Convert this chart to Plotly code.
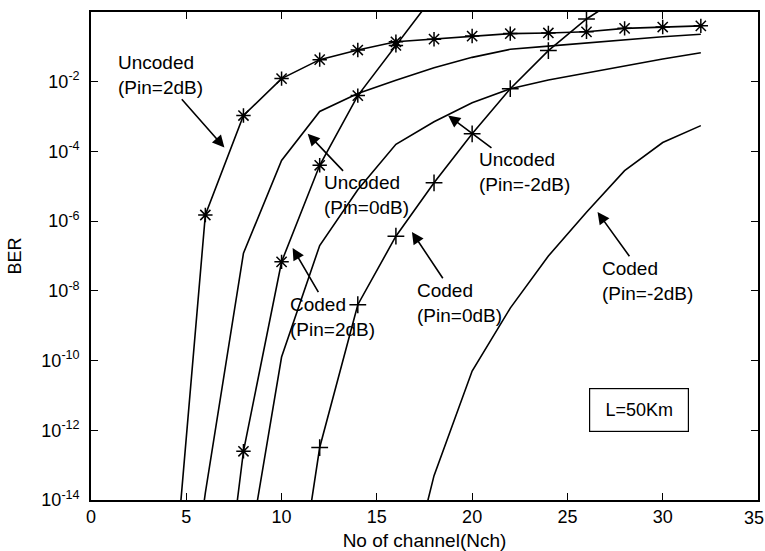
import plotly.graph_objects as go

# ---- BER versus number of channels, L = 50 km ----
# Uncoded, Pin = 2 dB
nch_unc_p2 = [4, 6, 8, 10, 12, 14, 16, 18, 20, 22, 24, 26, 28, 30, 32]
ber_unc_p2 = [2.5e-19, 1.5e-6, 1.07e-3, 1.23e-2, 4.3e-2, 8.1e-2, 0.14, 0.166,
              0.204, 0.24, 0.25, 0.27, 0.34, 0.37, 0.40]

# Uncoded, Pin = 0 dB
nch_unc_p0 = [4, 6, 8, 10, 12, 14, 16, 18, 20, 22, 24, 26, 28, 30, 32]
ber_unc_p0 = [1.6e-22, 1.6e-14, 1.2e-7, 5.5e-5, 1.4e-3, 4.6e-3, 1.1e-2, 2.5e-2,
              5.0e-2, 8.5e-2, 0.105, 0.13, 0.16, 0.195, 0.23]

# Uncoded, Pin = -2 dB
nch_unc_m2 = [8, 10, 12, 14, 16, 18, 20, 22, 24, 26, 28, 30, 32]
ber_unc_m2 = [4e-17, 1.26e-10, 2e-7, 7.9e-6, 1.6e-4, 7.1e-4, 2.5e-3, 6.3e-3,
              1.12e-2, 1.8e-2, 2.9e-2, 4.5e-2, 6.8e-2]

# Coded, Pin = 2 dB
nch_cod_p2 = [6, 8, 10, 12, 14, 16, 18]
ber_cod_p2 = [4e-22, 2.5e-13, 6.8e-8, 4e-5, 4e-3, 0.11, 3.0]

# Coded, Pin = 0 dB
nch_cod_p0 = [10, 12, 14, 16, 18, 20, 22, 24, 26, 28]
ber_cod_p0 = [2e-20, 3.2e-13, 4e-9, 3.7e-7, 1.26e-5, 3.2e-4, 6.3e-3, 7.8e-2,
              0.63, 3.2]

# Coded, Pin = -2 dB
nch_cod_m2 = [16, 18, 20, 22, 24, 26, 28, 30, 32]
ber_cod_m2 = [2e-18, 5e-14, 5e-11, 3.2e-9, 1e-7, 1.8e-6, 2.8e-5, 1.8e-4, 5.5e-4]

# Axis ticks
x_ticks = [0, 5, 10, 15, 20, 25, 30, 35]
x_ticklabels = ["0", "5", "10", "15", "20", "25", "30", "35"]
y_exponents = [0, -2, -4, -6, -8, -10, -12, -14]

FONT = "Arial, Liberation Sans, sans-serif"
LINE = dict(color="black", width=1.6)

fig = go.Figure()

curves = [
    (nch_unc_p2, ber_unc_p2, "asterisk-open"),
    (nch_unc_p0, ber_unc_p0, None),
    (nch_unc_m2, ber_unc_m2, None),
    (nch_cod_p2, ber_cod_p2, "asterisk-open"),
    (nch_cod_p0, ber_cod_p0, "cross-thin-open"),
    (nch_cod_m2, ber_cod_m2, None),
]
for xs, ys, sym in curves:
    if sym is None:
        fig.add_trace(go.Scatter(x=xs, y=ys, mode="lines", line=LINE,
                                 showlegend=False, hoverinfo="skip"))
    else:
        fig.add_trace(go.Scatter(
            x=xs, y=ys, mode="lines+markers", line=LINE,
            marker=dict(symbol=sym, size=12, color="black",
                        line=dict(color="black", width=1.5)),
            showlegend=False, hoverinfo="skip"))

# Curve labels: text-box centre (x, log10 y) and the point the arrow indicates
labels = [
    ("Uncoded<br>(Pin=2dB)", 3.63, -1.80, 7.0, -3.89),
    ("Uncoded<br>(Pin=0dB)", 14.45, -5.26, 11.37, -3.49),
    ("Uncoded<br>(Pin=-2dB)", 22.74, -4.60, 18.74, -2.97),
    ("Coded<br>(Pin=2dB)", 12.68, -8.74, 10.58, -6.77),
    ("Coded<br>(Pin=0dB)", 19.32, -8.34, 16.84, -6.31),
    ("Coded<br>(Pin=-2dB)", 29.18, -7.71, 26.58, -5.74),
]
annotations = []
for text, cx, cy, hx, hy in labels:
    annotations.append(dict(
        text=text, x=hx, y=hy, ax=cx, ay=cy, xref="x", yref="y",
        axref="x", ayref="y", align="left", showarrow=True, arrowhead=2,
        arrowsize=1.5, arrowwidth=1.6, arrowcolor="black",
        font=dict(family=FONT, size=19, color="black")))

annotations.append(dict(
    text="L=50Km", x=28.74, y=-11.43, xref="x", yref="y", showarrow=False,
    width=96, height=40, bordercolor="black", borderwidth=1.2, borderpad=1,
    bgcolor="white", font=dict(family=FONT, size=18, color="black")))

# The last x tick label sits at the right edge of the figure; keep it inside
annotations.append(dict(
    text=x_ticklabels[-1], x=1, y=0, xref="paper", yref="paper",
    xanchor="right", yanchor="top", xshift=8, yshift=-6, showarrow=False,
    font=dict(family=FONT, size=18, color="black")))

fig.update_layout(
    width=765, height=551,
    margin=dict(l=91, r=7, t=12, b=51),
    paper_bgcolor="white", plot_bgcolor="white",
    font=dict(family=FONT, size=18, color="black"),
    annotations=annotations,
    xaxis=dict(
        range=[0, 35], tickvals=x_ticks[:-1], ticktext=x_ticklabels[:-1],
        ticks="inside", ticklen=7,
        tickwidth=1.2, tickcolor="black", showline=True, linecolor="black",
        linewidth=1.6, mirror="ticks", showgrid=False, zeroline=False,
        automargin=False,
        title=dict(text="No of channel(Nch)",
                   font=dict(family=FONT, size=19)),
        tickfont=dict(family=FONT, size=18),
    ),
    yaxis=dict(
        type="log", range=[-14, 0],
        tickvals=[10.0 ** e for e in y_exponents],
        ticktext=[f"10<sup>{e}</sup>" for e in y_exponents],
        ticks="inside", ticklen=7, tickwidth=1.2, tickcolor="black",
        showline=True, linecolor="black", linewidth=1.6, mirror="ticks",
        showgrid=False, zeroline=False, ticklabelstandoff=6,
        automargin=False,
        title=dict(text="BER", font=dict(family=FONT, size=18)),
        tickfont=dict(family=FONT, size=18),
    ),
)

fig.write_html("out.html")
